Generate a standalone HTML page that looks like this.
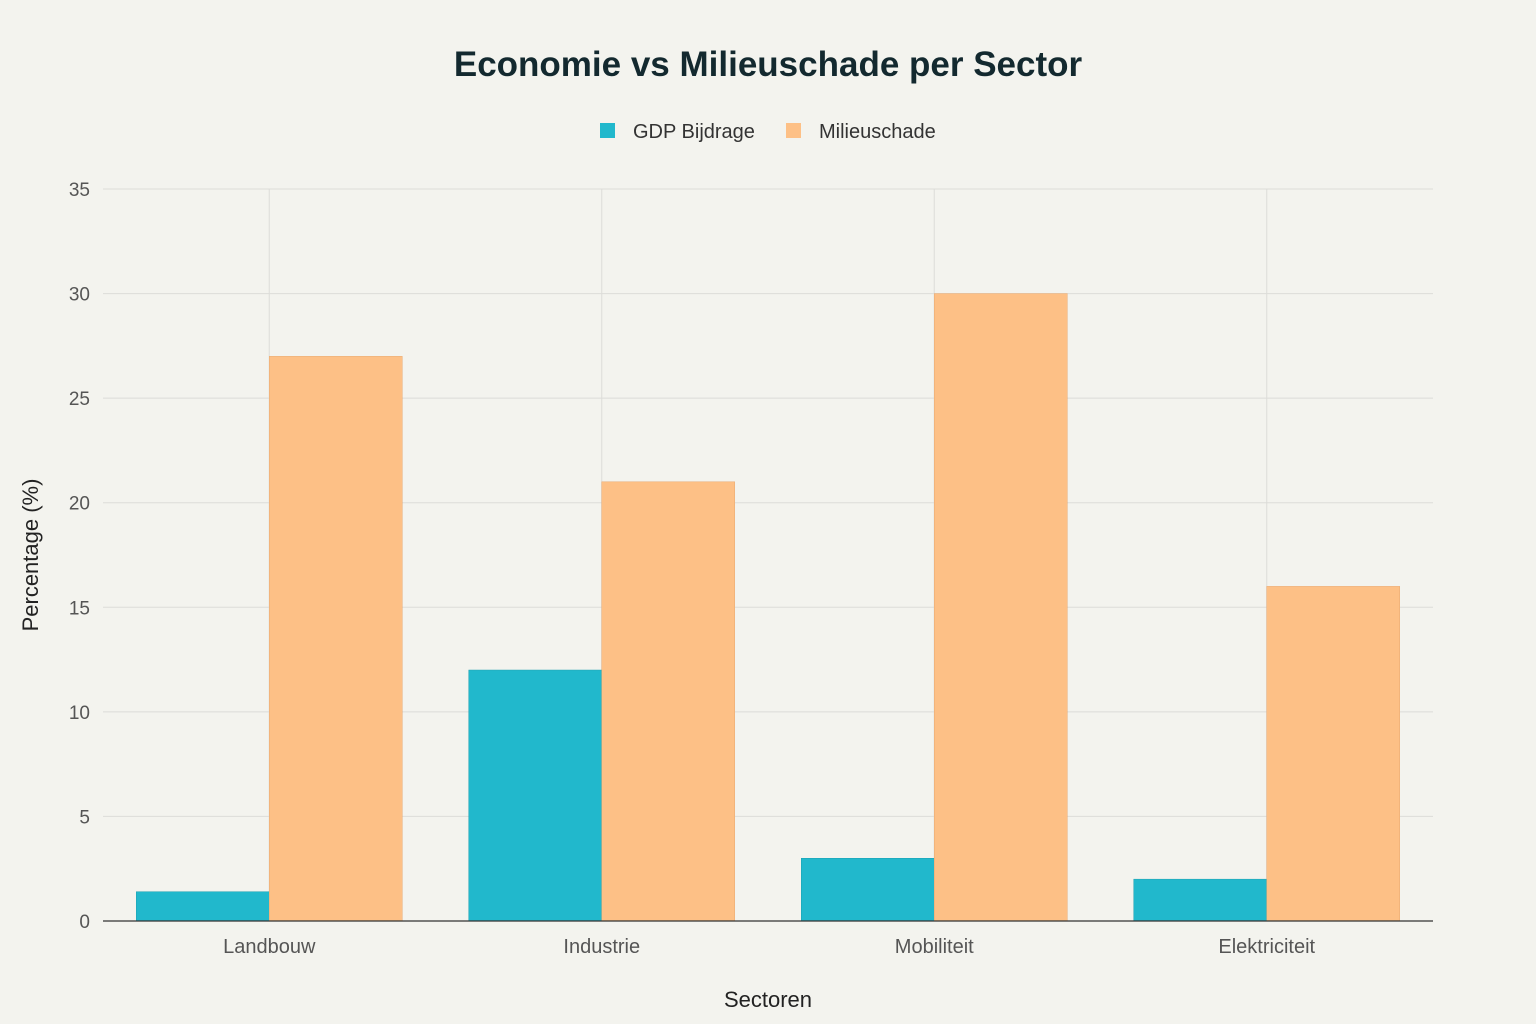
<!DOCTYPE html>
<html><head><meta charset="utf-8">
<style>
body{margin:0;background:#f3f3ee;font-family:"Liberation Sans",sans-serif;}
svg{display:block}
</style></head>
<body>
<svg id="chart" width="1536" height="1024">
<rect width="1536" height="1024" fill="#f3f3ee"/>
<text x="768" y="76" text-anchor="middle" font-size="35" font-weight="bold" fill="#13292f">Economie vs Milieuschade per Sector</text>
<g>
<g><rect x="600" y="123" width="15" height="15" fill="#21b8cc"/><text x="633" y="138" font-size="20" fill="#333">GDP Bijdrage</text></g>
<g><rect x="786" y="123" width="15" height="15" fill="#fdc086"/><text x="819" y="138" font-size="20" fill="#333">Milieuschade</text></g>
</g>
<g id="grid"></g>
<g id="bars"></g>
<g id="axes"></g>
<text x="768" y="1007" text-anchor="middle" font-size="22" fill="#222">Sectoren</text>
<text transform="translate(38,555) rotate(-90)" text-anchor="middle" font-size="22" fill="#222">Percentage (%)</text>
</svg>
<script>
const categories=["Landbouw","Industrie","Mobiliteit","Elektriciteit"];
const gdpValues=[1.4,12,3,2];
const milieuValues=[27,21,30,16];
const yTicks=[0,5,10,15,20,25,30,35];
const NS="http://www.w3.org/2000/svg";
const x0=103,x1=1433,yBase=921,yTop=189,yMax=35;
const band=(x1-x0)/categories.length;
const y=v=>yBase-(v/yMax)*(yBase-yTop);
const cx=i=>x0+band*(i+0.5);
function mk(tag,attrs,parent){const e=document.createElementNS(NS,tag);for(const k in attrs)e.setAttribute(k,attrs[k]);parent.appendChild(e);return e;}
const grid=document.getElementById('grid'),bars=document.getElementById('bars'),axes=document.getElementById('axes');
yTicks.forEach(t=>{
  if(t>0){const l=mk('line',{x1:x0,x2:x1,y1:y(t),y2:y(t),stroke:'#dcdcd8','stroke-width':1},grid);
  
  }
  const tx=mk('text',{x:90,y:y(t)+7,'text-anchor':'end','font-size':19,fill:'#555'},axes);
  tx.textContent=t;
  
  
});
categories.forEach((c,i)=>{
  const l=mk('line',{x1:cx(i),x2:cx(i),y1:yTop,y2:yBase,stroke:'#dcdcd8','stroke-width':1},grid);
  
  
  const bw=band*0.4;
  const b1=mk('rect',{x:cx(i)-bw,y:y(gdpValues[i]),width:bw,height:yBase-y(gdpValues[i]),fill:'#21b8cc',stroke:'#1a9fb0','stroke-width':0.5},bars);
  
  
  const b2=mk('rect',{x:cx(i),y:y(milieuValues[i]),width:bw,height:yBase-y(milieuValues[i]),fill:'#fdc086',stroke:'#e8a870','stroke-width':0.5},bars);
  
  
  const tx=mk('text',{x:cx(i),y:953,'text-anchor':'middle','font-size':20,fill:'#555'},axes);
  tx.textContent=c;
  
  
});
const ax=mk('line',{x1:x0,x2:x1,y1:yBase,y2:yBase,stroke:'#333','stroke-width':1.2},axes);


</script>
</body></html>
